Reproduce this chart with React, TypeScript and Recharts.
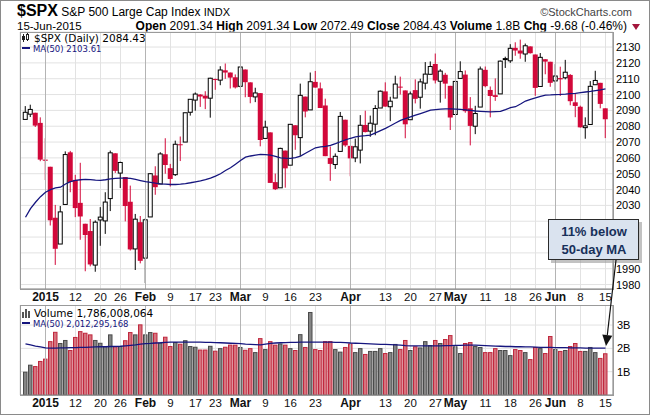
import React from 'react'
import {
  ComposedChart,
  Bar,
  Line,
  XAxis,
  YAxis,
  CartesianGrid,
  ReferenceLine,
} from 'recharts'

const F = '"Liberation Sans", Arial, sans-serif'
const V = '"DejaVu Sans", Verdana, sans-serif'
const RED = '#d2083a'
const NAVY = '#15157e'

// daily OHLC, 26-Dec-2014 .. 15-Jun-2015
const opens = [
  2084.3, 2087.6, 2088.5, 2082.1, 2058.9, 2054.4, 2022.2, 2005.6, 2030.6, 2063.5,
  2046.1, 2031.6, 2018.4, 2013.8, 1992.3, 2020.8, 2020.2, 2034.3, 2062.9, 2050.4,
  2047.9, 2032.3, 2002.5, 2019.4, 1996.7, 2022.7, 2048.9, 2043.5, 2062.3, 2053.5,
  2049.4, 2068.6, 2070.0, 2088.8, 2096.5, 2099.2, 2099.3, 2097.7, 2109.8, 2109.1,
  2115.3, 2113.9, 2110.9, 2105.2, 2115.8, 2107.7, 2098.5, 2100.9, 2072.3, 2076.1,
  2044.7, 2041.1, 2064.6, 2055.4, 2080.6, 2072.8, 2098.7, 2090.3, 2108.0, 2103.9,
  2093.1, 2059.9, 2055.8, 2064.1, 2084.1, 2067.6, 2060.0, 2064.9, 2080.8, 2076.9,
  2081.3, 2091.5, 2102.0, 2092.3, 2097.8, 2105.0, 2102.6, 2084.1, 2102.8, 2098.3,
  2107.2, 2112.8, 2119.3, 2108.4, 2112.5, 2105.5, 2087.4, 2110.2, 2112.6, 2091.3,
  2080.0, 2092.1, 2115.6, 2102.9, 2099.6, 2100.4, 2122.1, 2121.3, 2129.5, 2127.8,
  2125.6, 2130.4, 2125.3, 2105.1, 2122.3, 2120.7, 2108.6, 2110.4, 2110.6, 2112.4,
  2095.1, 2092.3, 2079.1, 2081.1, 2106.2, 2107.4, 2091.3,
]
const highs = [
  2092.7, 2093.6, 2088.5, 2085.6, 2072.4, 2054.4, 2030.3, 2029.6, 2064.1, 2064.4,
  2049.3, 2056.9, 2018.4, 2021.4, 2020.5, 2028.9, 2038.3, 2064.6, 2062.9, 2057.6,
  2047.9, 2042.5, 2024.6, 2023.3, 2021.7, 2050.3, 2054.7, 2063.6, 2072.4, 2056.2,
  2070.9, 2073.5, 2088.5, 2097.0, 2101.3, 2100.2, 2102.1, 2110.6, 2110.1, 2117.9,
  2119.6, 2113.9, 2112.7, 2117.5, 2115.8, 2107.7, 2104.3, 2100.9, 2083.5, 2076.1,
  2050.1, 2066.4, 2064.6, 2081.4, 2080.6, 2106.9, 2098.7, 2113.9, 2114.9, 2107.6,
  2097.4, 2067.2, 2062.8, 2089.0, 2084.1, 2067.6, 2072.2, 2087.0, 2089.8, 2086.7,
  2093.3, 2102.6, 2107.7, 2098.6, 2111.9, 2111.3, 2102.6, 2101.9, 2109.6, 2110.0,
  2120.5, 2120.9, 2125.9, 2116.0, 2113.7, 2105.5, 2108.4, 2121.0, 2115.2, 2098.4,
  2092.9, 2117.7, 2117.7, 2105.1, 2110.2, 2121.5, 2123.9, 2131.8, 2133.0, 2134.7,
  2132.2, 2130.4, 2125.3, 2126.2, 2122.3, 2120.7, 2119.2, 2117.6, 2121.9, 2112.9,
  2101.0, 2093.0, 2085.6, 2108.5, 2115.0, 2107.4, 2091.3,
]
const lows = [
  2084.3, 2085.8, 2079.5, 2057.9, 2046.0, 2017.3, 1992.4, 2005.6, 2030.6, 2038.3,
  2022.6, 2008.3, 1988.4, 1991.5, 1988.1, 2004.5, 2012.0, 2026.4, 2050.5, 2041.0,
  2019.9, 2001.5, 1989.2, 1993.4, 1980.9, 2022.7, 2036.7, 2043.5, 2050.0, 2041.9,
  2048.6, 2058.0, 2070.0, 2086.7, 2089.8, 2092.2, 2090.8, 2085.4, 2103.0, 2105.9,
  2109.9, 2103.8, 2103.8, 2104.5, 2098.3, 2094.5, 2095.2, 2067.3, 2072.2, 2044.2,
  2039.7, 2041.1, 2041.2, 2055.4, 2065.1, 2061.2, 2085.6, 2090.3, 2104.4, 2091.5,
  2061.1, 2045.5, 2053.0, 2064.1, 2067.0, 2048.4, 2057.3, 2056.5, 2076.1, 2073.3,
  2074.3, 2091.5, 2092.3, 2083.2, 2097.8, 2100.0, 2072.4, 2084.1, 2094.4, 2091.1,
  2103.2, 2112.8, 2107.0, 2094.9, 2097.4, 2077.6, 2087.4, 2110.2, 2088.5, 2067.9,
  2075.0, 2092.1, 2104.6, 2085.6, 2096.0, 2100.4, 2116.8, 2120.0, 2124.5, 2122.6,
  2120.7, 2125.9, 2099.2, 2105.1, 2112.8, 2104.9, 2102.5, 2099.1, 2109.6, 2093.2,
  2085.7, 2079.1, 2072.1, 2081.1, 2106.2, 2091.3, 2072.5,
]
const closes = [
  2088.8, 2090.6, 2080.4, 2058.9, 2058.2, 2020.6, 2002.6, 2025.9, 2062.1, 2044.8,
  2028.3, 2023.0, 2011.3, 1992.7, 2019.4, 2022.6, 2032.1, 2063.2, 2051.8, 2057.1,
  2029.6, 2002.2, 2021.3, 1995.0, 2020.9, 2050.0, 2041.5, 2062.5, 2055.5, 2046.7,
  2068.6, 2068.5, 2088.5, 2097.0, 2100.3, 2099.7, 2097.5, 2110.3, 2109.7, 2115.5,
  2113.9, 2110.7, 2104.5, 2117.4, 2107.8, 2098.5, 2101.0, 2071.3, 2079.4, 2044.2,
  2040.2, 2066.0, 2053.4, 2081.2, 2074.3, 2099.5, 2089.3, 2108.1, 2104.4, 2091.5,
  2061.1, 2056.2, 2061.0, 2086.2, 2067.9, 2059.7, 2067.0, 2080.6, 2076.3, 2081.9,
  2091.2, 2102.1, 2092.4, 2095.8, 2106.6, 2105.0, 2081.2, 2100.4, 2097.3, 2108.0,
  2112.9, 2117.7, 2108.9, 2114.8, 2106.9, 2085.5, 2108.3, 2114.5, 2089.5, 2080.2,
  2088.0, 2116.1, 2105.3, 2099.1, 2098.5, 2121.1, 2122.7, 2129.2, 2127.8, 2125.9,
  2130.8, 2126.1, 2104.2, 2123.5, 2120.8, 2107.4, 2111.7, 2109.6, 2114.1, 2095.8,
  2092.8, 2079.3, 2080.2, 2105.2, 2108.9, 2094.1, 2084.4,
]
const prevClose = 2081.9

// MA(50) of price
const priceMA = [
  2022.5, 2028, 2032, 2035.5, 2038.3, 2040, 2041, 2041.5, 2043.5, 2045,
  2045.8, 2046.2, 2046.4, 2046.3, 2046, 2045.8, 2046.2, 2046.8, 2047, 2047.2,
  2047.2, 2047, 2046.4, 2045.7, 2045, 2044.5, 2044, 2043.6, 2043.4, 2043.2,
  2043.2, 2043.4, 2043.8, 2044.3, 2044.9, 2045.5, 2046.2, 2047.2, 2048.5, 2050,
  2052, 2053.8, 2056, 2058.3, 2060.5, 2061.2, 2061.8, 2062.2, 2062.1, 2061.8,
  2061, 2060, 2059.8, 2059.7, 2060.2, 2061.1, 2062.9, 2064.7, 2066.4, 2066.9,
  2067.3, 2067.9, 2069, 2070.2, 2071.4, 2072.4, 2073.3, 2073.7, 2074, 2074.4,
  2075.8, 2077.2, 2078.6, 2080.3, 2082, 2083.7, 2084.8, 2085.9, 2087, 2088,
  2089, 2090.2, 2090.5, 2090.8, 2091, 2090.9, 2090.8, 2090.6, 2090.3, 2090,
  2089.6, 2089.4, 2089.2, 2089, 2089.2, 2089.4, 2090.5, 2091.7, 2092.3, 2094,
  2095.9, 2097, 2097.9, 2098.8, 2099.7, 2099.8, 2100, 2100.1, 2100.3, 2100.6,
  2100.8, 2101.2, 2101.6, 2102, 2102.5, 2103, 2103.6,
]

// volume in billions of shares
const volumes = [
  1.0, 1.3, 1.24, 1.46, 1.56, 2.31, 2.71, 2.23, 2.36, 1.93,
  2.49, 2.74, 2.67, 2.6, 2.36, 2.24, 2.1, 2.6, 2.1, 2.1,
  2.35, 2.7, 2.6, 3.03, 2.6, 2.7, 2.67, 2.25, 2.5, 2.1,
  2.27, 2.2, 2.35, 2.1, 2.07, 1.95, 1.95, 2.11, 1.9, 2.01,
  2.07, 2.16, 2.16, 2.06, 1.94, 2.01, 1.84, 2.44, 1.97, 2.31,
  2.16, 2.21, 2.16, 2.01, 1.93, 2.61, 2.06, 3.56, 1.97, 1.93,
  2.31, 2.31, 1.97, 1.86, 2.06, 2.21, 1.84, 2.01, 1.76, 1.89,
  1.89, 2.01, 1.8, 1.84, 2.19, 1.97, 2.36, 1.93, 2.09, 2.04,
  2.31, 2.14, 2.36, 2.23, 2.4, 2.57, 2.09, 1.8, 2.23, 2.27,
  2.1, 2.06, 1.84, 1.84, 2.01, 1.93, 1.93, 1.71, 1.97, 1.93,
  1.84, 1.54, 2.06, 2.01, 1.8, 2.53, 1.97, 1.89, 1.93, 2.1,
  2.23, 1.89, 1.89, 2.06, 1.84, 1.59, 1.79,
]
const volumeMA = [
  2.19, 2.15, 2.1, 2.06, 2.02, 2.01, 2.01, 2.02, 2.02, 2.03,
  2.03, 2.04, 2.04, 2.05, 2.06, 2.07, 2.07, 2.08, 2.08, 2.09,
  2.11, 2.13, 2.15, 2.18, 2.2, 2.21, 2.23, 2.24, 2.26, 2.27,
  2.27, 2.27, 2.27, 2.27, 2.27, 2.27, 2.26, 2.26, 2.25, 2.24,
  2.23, 2.22, 2.21, 2.2, 2.18, 2.17, 2.16, 2.15, 2.18, 2.21,
  2.23, 2.24, 2.25, 2.26, 2.26, 2.27, 2.27, 2.27, 2.27, 2.27,
  2.27, 2.27, 2.26, 2.26, 2.25, 2.23, 2.22, 2.21, 2.2, 2.19,
  2.18, 2.17, 2.17, 2.16, 2.15, 2.14, 2.12, 2.11, 2.11, 2.11,
  2.11, 2.11, 2.11, 2.11, 2.12, 2.12, 2.13, 2.13, 2.14, 2.14,
  2.14, 2.13, 2.12, 2.11, 2.1, 2.09, 2.08, 2.08, 2.07, 2.07,
  2.06, 2.06, 2.05, 2.04, 2.04, 2.04, 2.03, 2.03, 2.03, 2.02,
  2.02, 2.02, 2.01, 2.01, 2.01, 2.01, 2.01,
]

const tickIndex = [4, 10, 15, 19, 24, 29, 34, 38, 43, 48, 53, 58, 65, 72, 77, 82, 86, 92, 97, 102, 106, 111, 116]
const tickLabels = ['2015', '12', '20', '26', 'Feb', '9', '17', '23', 'Mar', '9', '16', '23', 'Apr', '13', '20', '27', 'May', '11', '18', '26', 'Jun', '8', '15']
const monthLabels = ['2015', 'Feb', 'Mar', 'Apr', 'May', 'Jun']
const priceTicks = [1980, 1990, 2000, 2010, 2020, 2030, 2040, 2050, 2060, 2070, 2080, 2090, 2100, 2110, 2120, 2130]
// labels that sit behind the note box
const coveredTicks = [2000, 2010, 2020]
const volumeTicks = [1, 2, 3]

const data = closes.map((c, i) => ({
  i,
  open: opens[i],
  high: highs[i],
  low: lows[i],
  close: c,
  range: [lows[i], highs[i]],
  up: c >= (i === 0 ? prevClose : closes[i - 1]),
  vol: volumes[i],
  ma: priceMA[i],
  vma: volumeMA[i],
}))

const monthIdx = tickIndex.filter((_, k) => monthLabels.includes(tickLabels[k]))

function Candle(props: any) {
  const { x, y, width, height, payload } = props
  if (!payload) return null
  const { open, high, low, close, up } = payload
  const top = Math.min(y, y + height)
  const h = Math.abs(height)
  const k = h / (high - low)
  const cx = x + width / 2
  const yo = top + (high - open) * k
  const yc = top + (high - close) * k
  const color = up ? '#000' : RED
  const b0 = Math.min(yo, yc)
  const bh = Math.max(Math.abs(yo - yc), 1)
  return (
    <g>
      <line x1={cx} x2={cx} y1={top} y2={top + h} stroke={color} strokeWidth={1} />
      {close > open ? (
        <rect x={cx - 2} y={b0} width={4} height={bh} fill="#fff" stroke={color} strokeWidth={1} />
      ) : (
        <rect x={cx - 2.5} y={b0} width={5} height={bh} fill={color} />
      )}
    </g>
  )
}

function VolBar(props: any) {
  const { x, y, width, height, payload } = props
  if (!payload) return null
  const up = payload.up
  return (
    <rect
      x={x + 0.5}
      y={y + 0.5}
      width={width - 1}
      height={Math.max(height - 0.5, 0)}
      fill={up ? '#858585' : '#d6737e'}
      stroke={up ? '#4b4b4b' : '#c0283e'}
      strokeWidth={1}
    />
  )
}

function DateTick({ x, y, payload }: any) {
  const k = tickIndex.indexOf(payload.value)
  const label = tickLabels[k]
  const bold = monthLabels.includes(label)
  return (
    <text
      x={x}
      y={y + 12}
      textAnchor="middle"
      fontSize={bold ? 12 : 11.5}
      fontWeight={bold ? 700 : 400}
      fontFamily={F}
      fill="#111"
    >
      {label}
    </text>
  )
}

function PriceTick({ x, y, payload }: any) {
  if (coveredTicks.includes(payload.value)) return null
  return (
    <text x={x} y={y + 4} fontSize={11} fontFamily={F} fill="#000">
      {payload.value}
    </text>
  )
}

function Grid() {
  return (
    <>
      <CartesianGrid stroke="#e2e2e2" vertical={true} horizontal={true} />
      {monthIdx.map((m) => (
        <ReferenceLine key={m} x={m} stroke="#b4b4b4" strokeWidth={1} />
      ))}
    </>
  )
}

function PriceIcon() {
  return (
    <svg width={9} height={10} style={{ verticalAlign: -1, marginRight: 3 }}>
      <line x1={1.5} x2={1.5} y1={1} y2={9} stroke="#222" />
      <rect x={0} y={3} width={3} height={4} fill="#222" />
      <line x1={5.5} x2={5.5} y1={0} y2={8} stroke="#222" />
      <rect x={4.5} y={1.5} width={2} height={5} fill="#fff" stroke="#222" />
    </svg>
  )
}

function VolIcon() {
  return (
    <svg width={9} height={10} style={{ verticalAlign: -1, marginRight: 3 }}>
      <rect x={0} y={4} width={2} height={6} fill="#555" />
      <rect x={3} y={1} width={2} height={9} fill="#555" />
      <rect x={6} y={3} width={2} height={7} fill="#555" />
    </svg>
  )
}

export default function App() {
  return (
    <div
      style={{
        position: 'absolute',
        left: 0,
        top: 0,
        width: 650,
        height: 415,
        background: '#fff',
        border: '1px solid #8a8a8a',
        boxSizing: 'border-box',
        fontFamily: F,
        color: '#000',
        overflow: 'hidden',
      }}
    >
      {/* header */}
      <div style={{ position: 'absolute', left: 16, top: 1, whiteSpace: 'nowrap', lineHeight: '17px' }}>
        <span style={{ fontSize: 16, fontWeight: 700 }}>$SPX</span>
        <span style={{ fontSize: 12 }}> S&amp;P 500 Large Cap Index </span>
        <span style={{ fontSize: 11 }}>INDX</span>
      </div>
      <div style={{ position: 'absolute', right: 17, top: 5, fontSize: 11, color: '#444', whiteSpace: 'nowrap', lineHeight: '12px' }}>
        ©StockCharts.com
      </div>
      <div style={{ position: 'absolute', left: 16, top: 19, fontSize: 11.5, whiteSpace: 'nowrap', lineHeight: '12px' }}>
        15-Jun-2015
      </div>
      <div style={{ position: 'absolute', right: 22, top: 19, fontSize: 12, whiteSpace: 'nowrap', lineHeight: '12px' }}>
        <b>Open</b> 2091.34 <b>High</b> 2091.34 <b>Low</b> 2072.49 <b>Close</b> 2084.43 <b>Volume</b> 1.8B{' '}
        <b>Chg</b> -9.68 (-0.46%)
      </div>
      <svg style={{ position: 'absolute', right: 9, top: 23 }} width={8} height={6}>
        <polygon points="0,0 8,0 4,6" fill="#a3163c" />
      </svg>

      {/* price panel */}
      <div style={{ position: 'absolute', left: 0, top: 0 }}>
        <ComposedChart width={650} height={305} data={data} margin={{ top: 31, right: 2, bottom: 0, left: 19 }}>
          <Grid />
          <XAxis
            dataKey="i"
            type="category"
            ticks={tickIndex}
            interval={0}
            padding={{ left: 3, right: 5 }}
            height={17}
            tickSize={0}
            tickMargin={0}
            axisLine={{ stroke: '#888' }}
            tick={<DateTick />}
          />
          <YAxis
            orientation="right"
            width={36}
            domain={[1977.2, 2139.5]}
            allowDataOverflow
            ticks={priceTicks}
            interval={0}
            tickSize={0}
            tickMargin={3}
            axisLine={{ stroke: '#888' }}
            tick={<PriceTick />}
          />
          <Bar dataKey="range" barSize={5} shape={<Candle />} isAnimationActive={false} />
          <Line dataKey="ma" stroke={NAVY} strokeWidth={1.3} dot={false} activeDot={false} isAnimationActive={false} />
        </ComposedChart>
      </div>
      <div
        style={{
          position: 'absolute',
          left: 19,
          top: 31,
          width: 594,
          height: 258,
          border: '1px solid #9a9a9a',
          boxSizing: 'border-box',
          pointerEvents: 'none',
        }}
      />
      <div style={{ position: 'absolute', left: 21, top: 32, whiteSpace: 'nowrap', fontFamily: V, lineHeight: '11px' }}>
        <div style={{ fontSize: 10.5 }}>
          <PriceIcon />
          $SPX (Daily) 2084.43
        </div>
        <div style={{ fontSize: 8.5, color: NAVY }}>
          <span style={{ display: 'inline-block', width: 8, height: 2, background: NAVY, verticalAlign: 3, marginRight: 3 }} />
          MA(50) 2103.61
        </div>
      </div>

      {/* volume panel */}
      <div style={{ position: 'absolute', left: 0, top: 304 }}>
        <ComposedChart width={650} height={110} data={data} margin={{ top: 0, right: 2, bottom: 0, left: 19 }}>
          <Grid />
          <XAxis
            dataKey="i"
            type="category"
            ticks={tickIndex}
            interval={0}
            padding={{ left: 3, right: 5 }}
            height={20}
            tickSize={0}
            tickMargin={0}
            axisLine={{ stroke: '#888' }}
            tick={<DateTick />}
          />
          <YAxis
            orientation="right"
            width={36}
            domain={[0, 3.86]}
            allowDataOverflow
            ticks={volumeTicks}
            interval={0}
            tickSize={0}
            tickMargin={4}
            axisLine={{ stroke: '#888' }}
            tickFormatter={(v: number) => `${v}B`}
            tick={{ fontSize: 11, fill: '#000', fontFamily: F }}
          />
          <Bar dataKey="vol" barSize={5} shape={<VolBar />} isAnimationActive={false} />
          <Line dataKey="vma" stroke={NAVY} strokeWidth={1.3} dot={false} activeDot={false} isAnimationActive={false} />
        </ComposedChart>
      </div>
      <div
        style={{
          position: 'absolute',
          left: 19,
          top: 304,
          width: 594,
          height: 91,
          border: '1px solid #9a9a9a',
          boxSizing: 'border-box',
          pointerEvents: 'none',
        }}
      />
      <div style={{ position: 'absolute', left: 21, top: 307, whiteSpace: 'nowrap', fontFamily: V, lineHeight: '11px' }}>
        <div style={{ fontSize: 10.5 }}>
          <VolIcon />
          Volume 1,786,008,064
        </div>
        <div style={{ fontSize: 8.5, color: NAVY }}>
          <span style={{ display: 'inline-block', width: 8, height: 2, background: NAVY, verticalAlign: 3, marginRight: 3 }} />
          MA(50) 2,012,295,168
        </div>
      </div>

      {/* annotation */}
      <svg style={{ position: 'absolute', left: 0, top: 0, pointerEvents: 'none' }} width={650} height={415}>
        <rect x={550} y={221} width={91} height={41} fill="#9a9a9a" opacity={0.6} />
        <rect x={547.5} y={218.5} width={90} height={40} fill="#dae3ef" stroke="#2a2a2a" strokeWidth={1} />
        <text x={593} y={235} textAnchor="middle" fontFamily={F} fontWeight={700} fontSize={13} fill="#17305a">
          11% below
        </text>
        <text x={593} y={253} textAnchor="middle" fontFamily={F} fontWeight={700} fontSize={13} fill="#17305a">
          50-day MA
        </text>
        <line x1={615} y1={259} x2={606.3} y2={334} stroke="#111" strokeWidth={1.2} />
        <polygon points="605,345 611.3,334.7 601.3,333.5" fill="#111" />
      </svg>
    </div>
  )
}
